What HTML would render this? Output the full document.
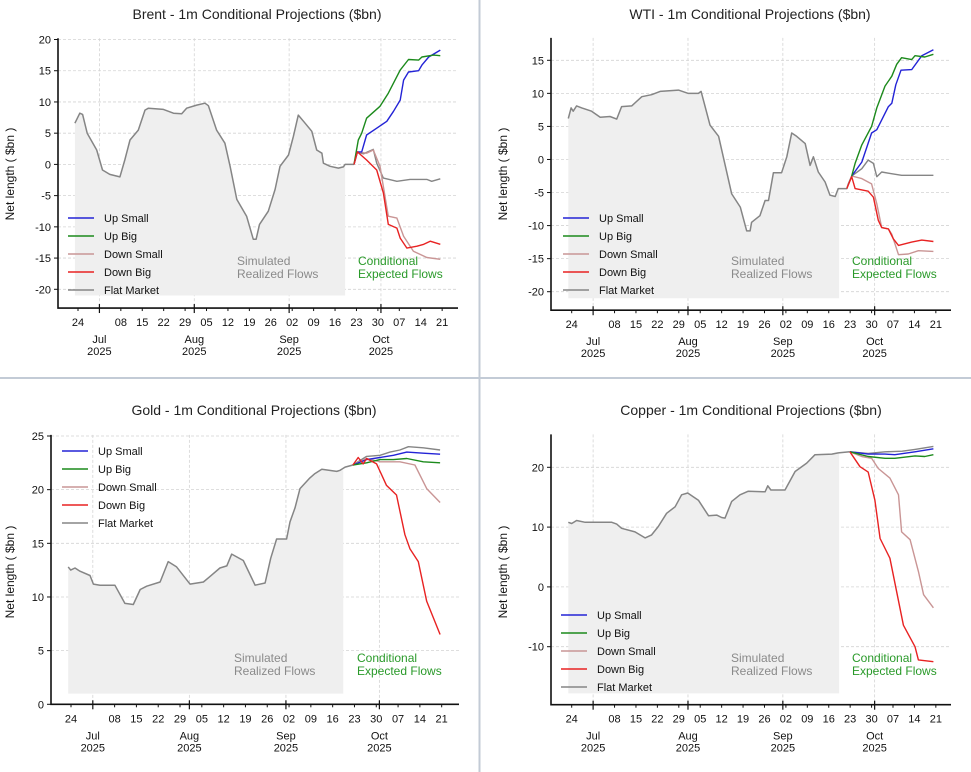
<!DOCTYPE html>
<html><head><meta charset="utf-8"><style>
html,body{margin:0;padding:0;background:#fff;}
svg{display:block;font-family:"Liberation Sans",sans-serif;}
</style></head><body>
<svg id="chart" width="971" height="772" viewBox="0 0 971 772" xmlns="http://www.w3.org/2000/svg">
<rect x="0" y="0" width="971" height="772" fill="#fff"/>
<line x1="479.5" y1="0" x2="479.5" y2="772" stroke="#c3cbd6" stroke-width="2"/>
<line x1="0" y1="378" x2="971" y2="378" stroke="#c3cbd6" stroke-width="2"/>
</svg>
<script>
// ---- Data (day index: 0 = 24 Jun 2025) ----
const seriesNames = ["Up Small","Up Big","Down Small","Down Big","Flat Market"];
const tickDays = [0,14,21,28,35,42,49,56,63,70,77,84,91,98,105,112,119];
const tickLabels = ["24","08","15","22","29","05","12","19","26","02","09","16","23","30","07","14","21"];
const monthDays = [7,38,69,99];
const monthLabels = ["Jul","Aug","Sep","Oct"];

const brentRealized = [[-1,6.6],[0.6,8.2],[1.5,8],[3,5],[6.1,2.3],[8,-0.9],[10.4,-1.6],[13.7,-2],[15.3,0.7],[17,3.9],[19.7,5.5],[21.9,8.7],[23,9],[27.9,8.8],[31.2,8.2],[33.9,8.1],[35.5,9],[38.8,9.5],[41.5,9.8],[42.6,9.4],[45.3,5.5],[48,3.4],[49.7,-0.3],[51.9,-5.6],[55.1,-8.3],[57.3,-12],[58.2,-12],[59.3,-9.6],[62.2,-7.5],[64.4,-4],[66,-0.3],[68.8,1.5],[70.4,4.5],[72,7.9],[74.2,6.6],[76.4,5.3],[78,2.3],[79.7,1.8],[80.2,0.2],[82.4,-0.3],[85.1,-0.6],[86.7,-0.4],[87.3,0],[90.2,0]];
const brentUpSmall = [[90.2,0],[91.3,2],[92.7,2],[94.3,4.7],[97.6,5.8],[100.9,6.9],[103.1,8.5],[105.3,10.3],[106.4,13.5],[108,14.8],[111.3,15],[112.4,15.9],[114.6,17.2],[118.4,18.3]];
const brentUpBig = [[90.2,0],[91.6,3.9],[92.7,5],[94.3,7.4],[98.7,9.3],[101.4,11.4],[105.3,15.1],[108,16.8],[111.3,16.7],[112.4,17.2],[116.2,17.5],[118.4,17.4]];
const brentDownSmall = [[90.2,0],[91.3,2],[94.3,1.8],[96.5,2.3],[98.7,-0.3],[101.4,-8.3],[104.2,-8.6],[106.4,-11.5],[109.6,-13.9],[114,-14.9],[118.4,-15.2]];
const brentDownBig = [[90.2,0],[91.3,2],[94.3,0.7],[97.6,-0.9],[99.8,-4.6],[101.4,-9.6],[104.2,-10.2],[105.3,-11.8],[107.5,-13.4],[110.8,-13.1],[113,-12.8],[115.1,-12.3],[118.4,-12.8]];
const brentFlat = [[90.2,0],[91.1,2],[93.3,1.7],[96.5,2.4],[97.6,0.2],[99.8,-2.2],[104.2,-2.7],[108.5,-2.4],[114,-2.4],[115.6,-2.7],[118.4,-2.3]];
const brentYTicks = [20,15,10,5,0,-5,-10,-15,-20];

const wtiRealized = [[-1.1,6.2],[-0.2,7.8],[0.5,7.3],[1.6,8.1],[3.3,7.8],[6.5,7.3],[9.3,6.4],[12.5,6.5],[14.7,6.1],[16.3,8],[19.6,8.1],[22.9,9.5],[26.1,9.8],[28.9,10.3],[34.9,10.5],[38.1,10],[41.4,10],[42.3,10.3],[45.2,5.2],[48,3.5],[52.3,-5.2],[55.1,-7.2],[57.2,-10.8],[58.3,-10.8],[58.8,-9.5],[61.5,-8.5],[63.2,-6.2],[64.3,-6.2],[65.9,-2],[68.6,-2],[70.3,0.4],[71.9,4],[73.5,3.5],[76.3,2.4],[77.9,-0.9],[79,0.4],[80.6,-1.9],[82.8,-3.4],[84.4,-5.4],[86.1,-5.6],[87.1,-4.4],[89.9,-4.4],[90.4,-3.7],[91.5,-2.5]];
const wtiUpSmall = [[91.5,-2.5],[94.8,-0.4],[98,4],[99.7,4.5],[103.5,8],[104.6,8.5],[105.9,11.3],[107.6,13.5],[111.1,13.6],[114.4,15.7],[118.2,16.6]];
const wtiUpBig = [[91.5,-2.5],[92.6,-0.6],[94.8,2.2],[98,5],[99.7,7.8],[102.4,11.1],[104.6,12.6],[106.2,14.4],[107.8,15.4],[111.1,15.1],[112.2,15.7],[115.4,15.5],[118.2,15.9]];
const wtiDownSmall = [[91.5,-2.5],[94.8,-2.9],[98,-3.7],[99.7,-6.7],[101.3,-10.3],[103.5,-10.5],[104.6,-11.3],[106.8,-14.4],[110,-14.3],[113.3,-13.8],[118.2,-13.9]];
const wtiDownBig = [[89.9,-4.4],[91.5,-2.6],[92.6,-4.4],[96.9,-4.8],[98.6,-5.7],[100.2,-9.2],[101.3,-10.3],[103.5,-10.5],[105.1,-12],[106.8,-13],[111.1,-12.5],[114.4,-12.2],[118.2,-12.4]];
const wtiFlat = [[91.5,-2.5],[94.8,-1.4],[96.9,-0.1],[98.6,-0.6],[99.7,-2.6],[101.3,-1.9],[104,-2.1],[107.8,-2.4],[118.2,-2.4]];
const wtiYTicks = [15,10,5,0,-5,-10,-15,-20];

const goldRealized = [[-0.9,12.8],[-0.1,12.5],[1.3,12.7],[2.9,12.4],[6.1,12],[7.2,11.2],[9.3,11.1],[14.1,11.1],[17.3,9.4],[20,9.3],[22.2,10.7],[24.3,11],[28.6,11.4],[31.2,13.3],[33.9,12.8],[38.2,11.2],[42.5,11.4],[44.6,11.9],[47.8,12.7],[50,12.9],[51.6,14],[55.3,13.4],[59.1,11.1],[62.3,11.3],[64.1,13.6],[66,15.4],[69.2,15.4],[70.3,17],[71.9,18.3],[73.5,20.1],[76.7,21.1],[78.3,21.5],[80.5,21.9],[85.3,21.7],[86.4,21.8],[88,22.1],[90.5,22.3]];
const goldUpSmall = [[90.5,22.3],[94.9,22.8],[99.2,23],[103.5,23.2],[107.8,23.5],[113.1,23.4],[118.5,23.3]];
const goldUpBig = [[90.5,22.3],[94.9,22.5],[99.2,22.8],[103.5,22.8],[107.8,22.9],[113.1,22.6],[118.5,22.5]];
const goldDownSmall = [[90.5,22.3],[94.9,22.9],[99.2,22.6],[105.6,22.6],[110.4,22.3],[114.2,20.1],[118.5,18.8]];
const goldDownBig = [[90.5,22.3],[92.2,23],[93.8,22.4],[94.9,22.9],[98.1,22.4],[101.3,20.4],[104.5,19.5],[107.2,15.8],[108.8,14.5],[111.5,13.3],[114.2,9.6],[118.5,6.5]];
const goldFlat = [[90.5,22.3],[94.9,23.1],[99.2,23.2],[102.4,23.5],[105.6,23.7],[108.3,24],[113.1,23.9],[118.5,23.7]];
const goldYTicks = [25,20,15,10,5,0];

const copperRealized = [[-1.1,10.8],[0,10.6],[1.6,11.1],[4.4,10.8],[13.1,10.8],[14.7,10.5],[16.3,9.8],[20.7,9.2],[24,8.2],[26.1,8.7],[28.3,10.1],[31,12.3],[33.8,13.4],[35.9,15.4],[37.9,15.7],[41.4,14.5],[44.7,11.9],[47.4,12],[49,11.6],[50.1,11.5],[52.3,14.3],[55,15.4],[57.7,16],[63.2,15.9],[64.1,16.9],[65.1,16.2],[69.7,16.2],[73,19.3],[76.8,20.7],[79.5,22.1],[85,22.2],[87.1,22.4],[90.9,22.6]];
const copperUpSmall = [[90.9,22.6],[96.9,22.2],[102.4,22.2],[105.6,22.1],[112.2,22.6],[118.2,23.1]];
const copperUpBig = [[90.9,22.6],[96.9,21.8],[102.4,21.5],[105.6,21.5],[112.2,21.9],[115.4,21.8],[118.2,22.1]];
const copperDownSmall = [[90.9,22.6],[94.8,21.8],[98,21.5],[100.2,19.8],[104,18.2],[106.8,15.4],[107.8,9.2],[110.6,7.9],[113.3,2.6],[115,-1.3],[118.2,-3.5]];
const copperDownBig = [[90.9,22.6],[94.2,20.1],[96.9,19.2],[99.1,14.5],[100.8,8.1],[104,4.8],[108.4,-6.4],[112.2,-10],[113.3,-12.2],[118.2,-12.5]];
const copperFlat = [[90.9,22.6],[96.9,22.3],[102.4,22.6],[108,22.7],[112.2,23],[118.2,23.5]];
const copperYTicks = [20,10,0,-10];

// ---- Drawing ----
const NS = "http://www.w3.org/2000/svg";
const svg = document.getElementById("chart");
const colors = ["#2323d6","#1c8a1c","#c99595","#e82222","#858585"];

function mk(tag, attrs, parent){
  const e = document.createElementNS(NS, tag);
  for (const k in attrs) e.setAttribute(k, attrs[k]);
  (parent||svg).appendChild(e);
  return e;
}

function panel(cfg){
  const g = mk("g", {});
  
  
  const X = d => cfg.x0 + d * cfg.k;
  const Y = v => cfg.yA + (v - cfg.vA) * (cfg.yB - cfg.yA) / (cfg.vB - cfg.vA);
  const yTop = Y(cfg.vTop), yBot = Y(cfg.vBot);

  // title
  const t = mk("text", {x: cfg.titleX, y: cfg.titleY, "text-anchor":"middle", "font-size":"14", fill:"#222"}, g);
  t.textContent = cfg.title;
  
  

  // gridlines
  cfg.yTicks.forEach(v => {
    const l = mk("line", {x1: cfg.axL, x2: cfg.axR, y1: Y(v), y2: Y(v), stroke:"#d4d4d4", "stroke-width":"0.8", "stroke-dasharray":"3,2"}, g);
    
    
  });
  monthDays.forEach(d => {
    const l = mk("line", {x1: X(d), x2: X(d), y1: yTop, y2: yBot, stroke:"#d4d4d4", "stroke-width":"0.8", "stroke-dasharray":"3,2"}, g);
    
    
  });

  // shaded realized area
  const r = cfg.realized;
  let area = "M" + X(r[0][0]) + "," + Y(cfg.fillBase);
  r.forEach(p => { if (p[0] <= cfg.fillEnd) area += " L" + X(p[0]).toFixed(1) + "," + Y(p[1]).toFixed(1); });
  area += " L" + X(cfg.fillEnd) + "," + Y(r.filter(p=>p[0]<=cfg.fillEnd).slice(-1)[0][1]) + " L" + X(cfg.fillEnd) + "," + Y(cfg.fillBase) + " Z";
  const a = mk("path", {d: area, fill:"#efefef"}, g);
  
  

  // annotations
  const s1 = mk("text", {x: cfg.simX, y: cfg.annY, "font-size":"12", fill:"#8a8a8a"}, g);
  s1.textContent = "Simulated";
  
  
  const s2 = mk("text", {x: cfg.simX, y: cfg.annY + 13, "font-size":"12", fill:"#8a8a8a"}, g);
  s2.textContent = "Realized Flows";
  
  

  // lines
  const pathOf = pts => pts.map((p,i) => (i?"L":"M") + X(p[0]).toFixed(1) + "," + Y(p[1]).toFixed(1)).join(" ");
  const rl = mk("path", {d: pathOf(r), fill:"none", stroke:"#858585", "stroke-width":"1.5", "stroke-linejoin":"round"}, g);
  
  
  const order = [4,2,0,1,3];
  order.forEach(i => {
    const l = mk("path", {d: pathOf(cfg.series[i]), fill:"none", stroke: colors[i], "stroke-width":"1.4", "stroke-linejoin":"round"}, g);
    
    
  });

  const c1 = mk("text", {x: cfg.condX, y: cfg.annY, "font-size":"12", fill:"#2a9a2a"}, g);
  c1.textContent = "Conditional";
  
  
  const c2 = mk("text", {x: cfg.condX, y: cfg.annY + 13, "font-size":"12", fill:"#2a9a2a"}, g);
  c2.textContent = "Expected Flows";
  
  

  // spines
  const sp = mk("path", {d: "M" + cfg.axL + "," + yTop + " L" + cfg.axL + "," + yBot + " L" + cfg.axR + "," + yBot, fill:"none", stroke:"#111", "stroke-width":"1.6"}, g);
  
  

  // y ticks
  cfg.yTicks.forEach(v => {
    mk("line", {x1: cfg.axL - 4, x2: cfg.axL, y1: Y(v), y2: Y(v), stroke:"#111", "stroke-width":"1"}, g);
    const tx = mk("text", {x: cfg.axL - 7, y: Y(v) + 4, "text-anchor":"end", "font-size":"11", fill:"#111"}, g);
    tx.textContent = v;
    
    
  });
  // x ticks
  tickDays.forEach((d,i) => {
    mk("line", {x1: X(d), x2: X(d), y1: yBot, y2: yBot + 3, stroke:"#111", "stroke-width":"1"}, g);
    const tx = mk("text", {x: X(d), y: yBot + 18, "text-anchor":"middle", "font-size":"11", fill:"#111"}, g);
    tx.textContent = tickLabels[i];
    
    
  });
  monthDays.forEach((d,i) => {
    mk("line", {x1: X(d), x2: X(d), y1: yBot - 4, y2: yBot + 5, stroke:"#111", "stroke-width":"1.2"}, g);
    const tx = mk("text", {x: X(d), y: yBot + 35, "text-anchor":"middle", "font-size":"11", fill:"#111"}, g);
    tx.textContent = monthLabels[i];
    
    
    const ty = mk("text", {x: X(d), y: yBot + 47, "text-anchor":"middle", "font-size":"11", fill:"#111"}, g);
    ty.textContent = "2025";
    
    
  });

  // y label
  const yl = mk("text", {x: 0, y: 0, "text-anchor":"middle", "font-size":"12", fill:"#111", transform:"translate(" + cfg.ylX + "," + cfg.ylY + ") rotate(-90)"}, g);
  yl.textContent = "Net length ( $bn )";
  
  

  // legend
  seriesNames.forEach((n,i) => {
    const y = cfg.legY + i * 18;
    const ln = mk("line", {x1: cfg.legX, x2: cfg.legX + 26, y1: y, y2: y, stroke: colors[i], "stroke-width":"1.5"}, g);
    
    
    const tx = mk("text", {x: cfg.legX + 36, y: y + 4, "font-size":"11", fill:"#111"}, g);
    tx.textContent = n;
    
    
  });
}

panel({id:"brent", title:"Brent - 1m Conditional Projections ($bn)", titleX:257, titleY:19,
  x0:78, k:3.06, axL:58, axR:458, vA:20, yA:39.5, vB:-20, yB:289.3, vTop:20.2, vBot:-23,
  realized:brentRealized, series:[brentUpSmall,brentUpBig,brentDownSmall,brentDownBig,brentFlat],
  yTicks:brentYTicks, fillBase:-21, fillEnd:87.3, simX:237, condX:358, annY:265,
  ylX:14, ylY:174, legX:68, legY:218});
panel({id:"wti", title:"WTI - 1m Conditional Projections ($bn)", titleX:750, titleY:19,
  x0:571.7, k:3.06, axL:551, axR:951, vA:15, yA:60.3, vB:-20, yB:291.7, vTop:18.4, vBot:-22.8,
  realized:wtiRealized, series:[wtiUpSmall,wtiUpBig,wtiDownSmall,wtiDownBig,wtiFlat],
  yTicks:wtiYTicks, fillBase:-21, fillEnd:87.4, simX:731, condX:852, annY:265,
  ylX:507, ylY:174, legX:563, legY:218});
panel({id:"gold", title:"Gold - 1m Conditional Projections ($bn)", titleX:254, titleY:415,
  x0:71, k:3.115, axL:51, axR:459, vA:25, yA:436, vB:0, yB:704.3, vTop:25.1, vBot:0,
  realized:goldRealized, series:[goldUpSmall,goldUpBig,goldDownSmall,goldDownBig,goldFlat],
  yTicks:goldYTicks, fillBase:1, fillEnd:87.4, simX:234, condX:357, annY:662,
  ylX:14, ylY:572, legX:62, legY:451});
panel({id:"copper", title:"Copper - 1m Conditional Projections ($bn)", titleX:751, titleY:415,
  x0:571.7, k:3.06, axL:551, axR:951, vA:20, yA:467.3, vB:-10, yB:646.7, vTop:25.5, vBot:-19.7,
  realized:copperRealized, series:[copperUpSmall,copperUpBig,copperDownSmall,copperDownBig,copperFlat],
  yTicks:copperYTicks, fillBase:-17.8, fillEnd:87.4, simX:731, condX:852, annY:662,
  ylX:507, ylY:572, legX:561, legY:615});
</script>
</body></html>
